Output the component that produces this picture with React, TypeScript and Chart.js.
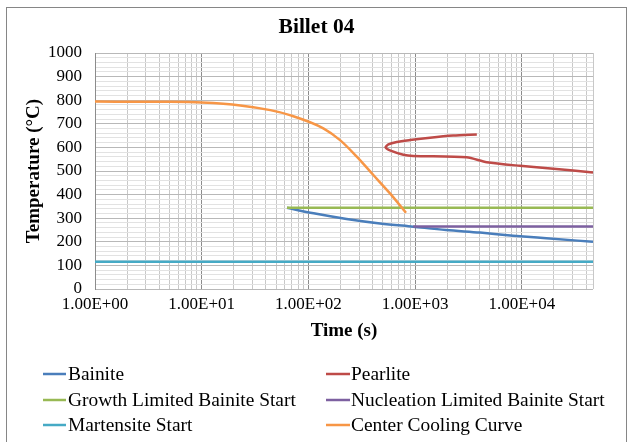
import React, { useEffect, useRef } from "react";
import { Chart, registerables } from "chart.js";

Chart.register(...registerables);

// ---------- data ----------
const seriesNames = [
  "Bainite",
  "Pearlite",
  "Growth Limited Bainite Start",
  "Nucleation Limited Bainite Start",
  "Martensite Start",
  "Center Cooling Curve",
];
const seriesColors = ["#4A7EBB", "#BE4B48", "#98B954", "#7D60A0", "#46AAC5", "#F79646"];

const bainiteTime = [63, 112, 228, 469, 960, 1950, 4060, 8300, 17000, 46500];
const bainiteTemp = [344, 321, 297, 278, 264, 250, 239, 226, 215, 200];

const pearliteTime = [3790, 2280, 1380, 895, 673, 562, 529, 589, 776, 960, 3040, 4700, 9600, 19800, 46500];
const pearliteTemp = [655, 650, 641, 631, 623, 613, 600, 586, 569, 564, 558, 537, 522, 510, 494];

const growthTime = [63, 46500];
const growthTemp = [344, 344];

const nucleationTime = [960, 46500];
const nucleationTemp = [265, 265];

const martensiteTime = [1, 46500];
const martensiteTemp = [115, 115];

const coolingTime = [1, 5, 10, 23, 44, 67, 138, 198, 284, 406, 582, 822];
const coolingTemp = [794, 793, 790, 778, 758, 737, 681, 631, 561, 483, 405, 323];

const decadeValues = [1, 10, 100, 1000, 10000];
const xTickLabels = ["1.00E+00", "1.00E+01", "1.00E+02", "1.00E+03", "1.00E+04"];
const xMin = 1;
const xMax = 46500;
const yMin = 0;
const yMax = 1000;

const FONT = '"Liberation Serif", "Times New Roman", serif';

function pts(xs: number[], ys: number[]) {
  return xs.map((x, i) => ({ x, y: ys[i] }));
}

const legendPlugin = {
  id: "excelLegend",
  afterDraw(chart: any) {
    const ctx = chart.ctx as CanvasRenderingContext2D;
    const cols = [
      { mx0: 36, mx1: 59, tx: 61 },
      { mx0: 319, mx1: 343, tx: 344 },
    ];
    const rows = [366, 392, 417];
    ctx.save();
    ctx.font = `19.4px ${FONT}`;
    ctx.textBaseline = "middle";
    ctx.textAlign = "left";
    chart.data.datasets.forEach((ds: any, i: number) => {
      const c = cols[i % 2];
      const y = rows[Math.floor(i / 2)];
      ctx.strokeStyle = ds.borderColor;
      ctx.lineWidth = 2.5;
      ctx.beginPath();
      ctx.moveTo(c.mx0, y);
      ctx.lineTo(c.mx1, y);
      ctx.stroke();
      ctx.fillStyle = "#000";
      ctx.fillText(ds.label, c.tx, y + 1);
    });
    ctx.restore();
  },
};

export default function App() {
  const ref = useRef<HTMLCanvasElement | null>(null);

  useEffect(() => {
    if (!ref.current) return;
    const series = [
      pts(bainiteTime, bainiteTemp),
      pts(pearliteTime, pearliteTemp),
      pts(growthTime, growthTemp),
      pts(nucleationTime, nucleationTemp),
      pts(martensiteTime, martensiteTemp),
      pts(coolingTime, coolingTemp),
    ];
    const tensions = [0.3, 0.25, 0, 0, 0, 0];
    const monotone = [true, false, false, false, false, true];
    const orders = [5, 4, 3, 2, 1, 0];

    const xTickValues: number[] = [];
    for (const d of decadeValues) {
      for (let m = 1; m <= 9; m++) {
        const v = d * m;
        if (v <= xMax) xTickValues.push(v);
      }
    }
    xTickValues.push(xMax);

    const isDecade = (v: number) => decadeValues.indexOf(v) >= 0;

    const chart = new Chart(ref.current, {
      type: "scatter",
      data: {
        datasets: series.map((data, i) => ({
          label: seriesNames[i],
          data,
          showLine: true,
          borderColor: seriesColors[i],
          backgroundColor: seriesColors[i],
          borderWidth: 2.5,
          pointRadius: 0,
          pointHoverRadius: 0,
          tension: monotone[i] ? 0.4 : tensions[i],
          cubicInterpolationMode: monotone[i] ? "monotone" : "default",
          fill: false,
          order: orders[i],
        })),
      },
      options: {
        responsive: false,
        animation: false,
        layout: { padding: { left: 33, right: 33, top: 0, bottom: 93 } },
        plugins: {
          legend: { display: false },
          tooltip: { enabled: false },
          title: {
            display: true,
            text: "Billet 04",
            color: "#000",
            font: { family: FONT, size: 21.5, weight: "bold" },
            padding: { top: 6.1, bottom: 13.1 },
          },
        },
        scales: {
          x: {
            type: "logarithmic",
            min: xMin,
            max: xMax,
            afterBuildTicks: (scale: any) => {
              scale.ticks = xTickValues.map((v) => ({ value: v }));
            },
            afterFit: (scale: any) => {
              scale.height = 60;
            },
            ticks: {
              autoSkip: false,
              maxRotation: 0,
              minRotation: 0,
              padding: 5,
              color: "#000",
              font: { family: FONT, size: 17 },
              callback: (value: any) => {
                const idx = decadeValues.indexOf(Number(value));
                return idx >= 0 ? xTickLabels[idx] : "";
              },
            },
            grid: {
              drawTicks: false,
              lineWidth: 1,
              color: (c: any) => (c.tick && isDecade(c.tick.value) ? "#8c8c8c" : "#c8c8c8"),
            },
            border: { display: false },
            title: {
              display: true,
              text: "Time (s)",
              color: "#000",
              font: { family: FONT, size: 19, weight: "bold" },
              padding: { top: 0, bottom: 6.6 },
            },
          },
          y: {
            type: "linear",
            min: yMin,
            max: yMax,
            afterFit: (scale: any) => {
              scale.width = 55;
            },
            ticks: {
              stepSize: 20,
              autoSkip: false,
              padding: 13,
              color: "#000",
              font: { family: FONT, size: 17 },
              callback: (value: any) => (Number(value) % 100 === 0 ? String(value) : ""),
            },
            grid: {
              drawTicks: false,
              lineWidth: 1,
              color: (c: any) => (c.tick && Math.round(c.tick.value) % 100 === 0 ? "#b8b8b8" : "#e2e2e2"),
            },
            border: { display: true, color: "#8c8c8c" },
            title: {
              display: true,
              text: "Temperature (°C)",
              color: "#000",
              font: { family: FONT, size: 19, weight: "bold" },
              padding: { top: -17.4, bottom: 0 },
            },
          },
        },
      },
      plugins: [legendPlugin],
    } as any);

    return () => chart.destroy();
  }, []);

  return (
    <div
      style={{
        position: "absolute",
        left: 6,
        top: 7,
        width: 621,
        height: 445,
        boxSizing: "border-box",
        border: "1px solid #868686",
        background: "#fff",
      }}
    >
      <canvas ref={ref} width={619} height={434} style={{ display: "block" }} />
    </div>
  );
}
